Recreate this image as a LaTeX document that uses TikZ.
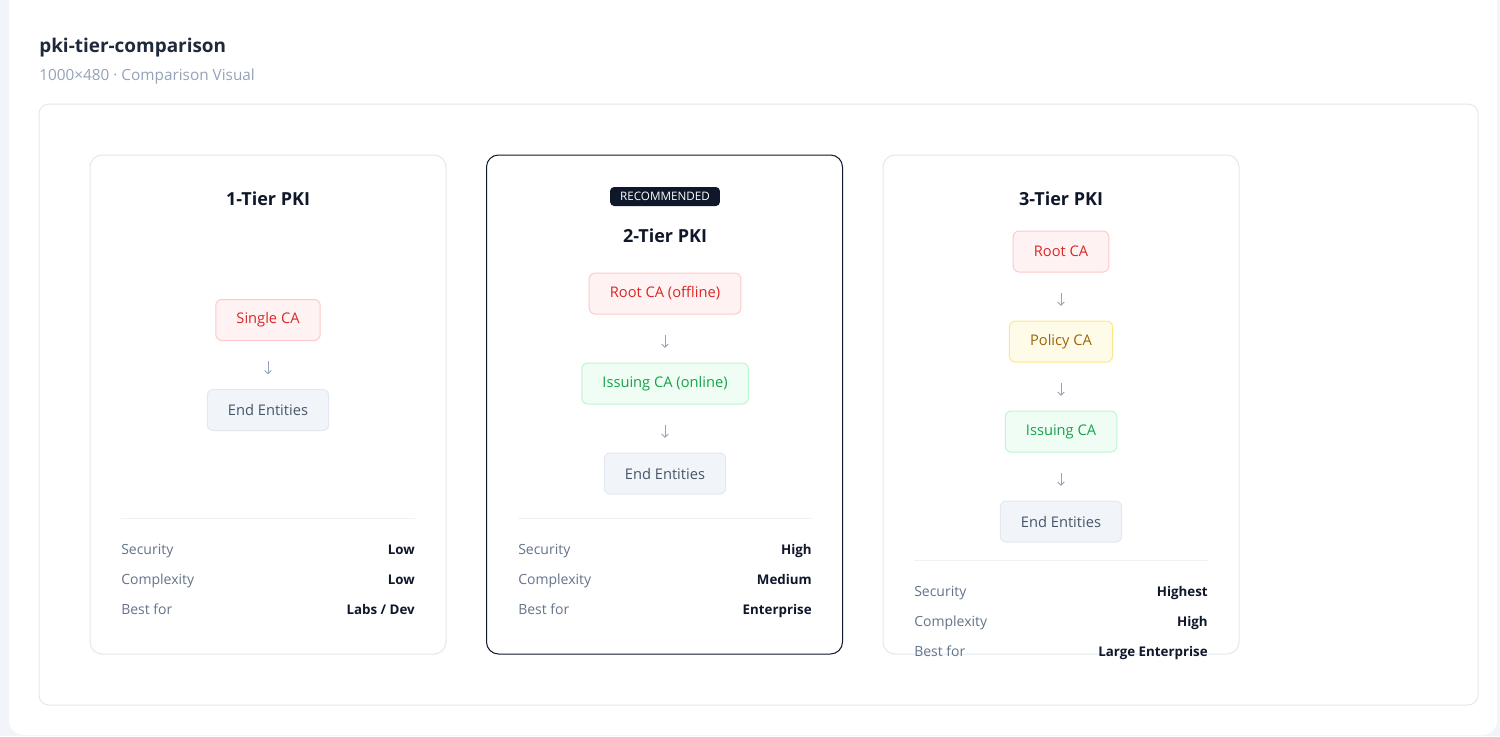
\documentclass[tikz,border=0pt]{standalone}
\usepackage{fontspec}
\setmainfont{Open Sans}
\usetikzlibrary{positioning,arrows.meta}

\definecolor{pageBg}{HTML}{F1F5F9}
\definecolor{frameLine}{HTML}{E2E8F0}
\definecolor{ink}{HTML}{0F172A}
\definecolor{headInk}{HTML}{1E293B}
\definecolor{mutedInk}{HTML}{94A3B8}
\definecolor{labelInk}{HTML}{64748B}
\definecolor{ruleLine}{HTML}{EEF2F6}
\definecolor{rootFill}{HTML}{FEF2F2}
\definecolor{rootLine}{HTML}{FECACA}
\definecolor{rootInk}{HTML}{DC2626}
\definecolor{issFill}{HTML}{F0FDF4}
\definecolor{issLine}{HTML}{BBF7D0}
\definecolor{issInk}{HTML}{16A34A}
\definecolor{polFill}{HTML}{FEFCE8}
\definecolor{polLine}{HTML}{FDE68A}
\definecolor{polInk}{HTML}{A16207}
\definecolor{eeFill}{HTML}{F1F5F9}
\definecolor{eeInk}{HTML}{475569}

\begin{document}
\begin{tikzpicture}[x=0.75pt,y=-0.75pt,node distance=36pt,
    card/.style={draw=frameLine, fill=white, line width=0.75pt, rounded corners=9pt, minimum width=267pt, minimum height=374.25pt},
    cardTitle/.style={font=\fontsize{13.5}{16}\selectfont\bfseries, text=ink},
    caBox/.style={draw, line width=0.75pt, rounded corners=4.5pt, minimum height=30.75pt, inner xsep=15.5pt, font=\fontsize{11}{13}\selectfont},
    rootCA/.style={caBox, fill=rootFill, draw=rootLine, text=rootInk},
    policyCA/.style={caBox, fill=polFill, draw=polLine, text=polInk},
    issuingCA/.style={caBox, fill=issFill, draw=issLine, text=issInk},
    endEnt/.style={caBox, fill=eeFill, draw=frameLine, text=eeInk},
    flow/.style={draw=mutedInk, line width=0.7pt, -{Straight Barb[length=2.5pt,width=5pt]}, shorten <=15pt, shorten >=11pt},
    rowLabel/.style={anchor=west, inner sep=0pt, text=labelInk, font=\fontsize{10.5}{12}\selectfont, text height=7.5pt, text depth=2pt},
    rowValue/.style={anchor=east, inner sep=0pt, text=ink, font=\fontsize{10}{12}\selectfont\bfseries, text height=7.5pt, text depth=2pt},
    divider/.style={draw=ruleLine, line width=0.75pt},
    ]

    % page and frame
    \useasboundingbox[fill=pageBg] (0,0) rectangle (1500,736);
    \fill[white, rounded corners=11pt] (9,-20) rectangle (1497,735);
    \node[anchor=west, inner sep=0pt, text=headInk, font=\fontsize{14.2}{17}\selectfont\bfseries] (head) at (39,48) {pki-tier-comparison};
    \node[anchor=west, inner sep=0pt, text=mutedInk, font=\fontsize{11.5}{14}\selectfont] (sub) at (39,77) {1000×480 · Comparison Visual};
    \draw[frameLine, line width=0.75pt, rounded corners=7.5pt] (39,104) rectangle (1478,705);

    % 1-tier
    \node[card] (c1) at (268,404.5) {};
    \node[cardTitle] (t1) at (268,199) {1-Tier PKI};
    \node[rootCA] (single) at (268,320) {Single CA};
    \node[endEnt, below=of single] (ee1) {End Entities};
    \draw[flow] (single) -- (ee1);
    \draw[divider] (121,518) -- (415,518);
    \foreach \lab/\val [count=\i] in {Security/Low, Complexity/Low, Best for/{Labs / Dev}} {
      \node[rowLabel] (l1-\i) at (121,521+30*\i) {\lab};
      \node[rowValue] (v1-\i) at (415,521+30*\i) {\val};
    }

    % 2-tier
    \node[card, draw=ink] (c2) at (664.5,404.5) {};
    \node[fill=ink, text=white, rounded corners=3pt, inner xsep=7.5pt, minimum height=14.25pt, font=\fontsize{8.75}{9}\selectfont] (badge) at (665,196.5) {RECOMMENDED};
    \node[cardTitle] (t2) at (665,236) {2-Tier PKI};
    \node[rootCA] (root2) at (665,293.5) {Root CA (offline)};
    \node[issuingCA, below=of root2] (iss2) {Issuing CA (online)};
    \node[endEnt, below=of iss2] (ee2) {End Entities};
    \draw[flow] (root2) -- (iss2);
    \draw[flow] (iss2) -- (ee2);
    \draw[divider] (518,518) -- (812,518);
    \foreach \lab/\val [count=\i] in {Security/High, Complexity/Medium, Best for/Enterprise} {
      \node[rowLabel] (l2-\i) at (518,521+30*\i) {\lab};
      \node[rowValue] (v2-\i) at (812,521+30*\i) {\val};
    }

    % 3-tier
    \node[card] (c3) at (1061,404.5) {};
    \node[cardTitle] (t3) at (1061,199) {3-Tier PKI};
    \node[rootCA] (root3) at (1061,251.5) {Root CA};
    \node[policyCA, below=of root3] (pol3) {Policy CA};
    \node[issuingCA, below=of pol3] (iss3) {Issuing CA};
    \node[endEnt, below=of iss3] (ee3) {End Entities};
    \draw[flow] (root3) -- (pol3);
    \draw[flow] (pol3) -- (iss3);
    \draw[flow] (iss3) -- (ee3);
    \draw[divider] (914,560) -- (1208,560);
    \foreach \lab/\val [count=\i] in {Security/Highest, Complexity/High, Best for/Large Enterprise} {
      \node[rowLabel] (l3-\i) at (914,563+30*\i) {\lab};
      \node[rowValue] (v3-\i) at (1208,563+30*\i) {\val};
    }
\end{tikzpicture}
\end{document}
